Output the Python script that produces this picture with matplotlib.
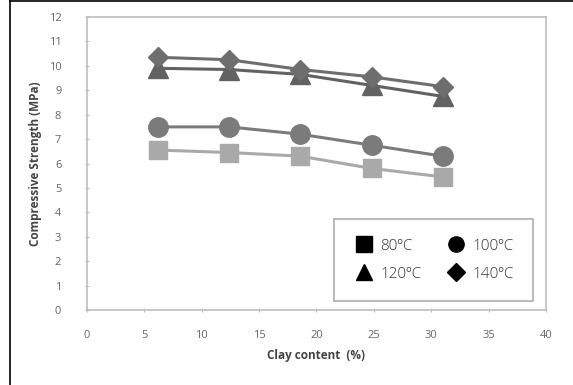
import matplotlib
matplotlib.use("Agg")
import matplotlib.pyplot as plt
from matplotlib.lines import Line2D

# data
clay = [6.2, 12.4, 18.6, 24.8, 31.0]
s80 = [6.55, 6.45, 6.3, 5.8, 5.45]
s100 = [7.5, 7.5, 7.2, 6.75, 6.3]
s120 = [9.9, 9.85, 9.65, 9.2, 8.75]
s140 = [10.35, 10.25, 9.85, 9.55, 9.15]
labels = ["80ºC", "100ºC", "120ºC", "140ºC"]

plt.rcParams['font.family'] = ['Open Sans', 'DejaVu Sans']

fig = plt.figure(figsize=(5.73, 3.85), dpi=100)
ax = fig.add_axes([0.1518, 0.1948, 0.801, 0.761])

ax.plot(clay, s80, color='#a9a9a9', lw=2.2, marker='s', ms=13, zorder=3)
ax.plot(clay, s100, color='#7b7b7b', lw=2.2, marker='o', ms=14, zorder=3)
ax.plot(clay, s120, color='#626262', lw=2.2, marker='^', ms=14, zorder=4)
ax.plot(clay, s140, color='#6e6e6e', lw=2.2, marker='D', ms=10.5, zorder=4)

ax.set_xlim(0, 40)
ax.set_ylim(0, 12)
ax.set_xticks(range(0, 41, 5))
ax.set_yticks(range(0, 13))

for sp in ax.spines.values():
    sp.set_color('#bdbdbd')
    sp.set_linewidth(1.2)

ax.tick_params(axis='both', colors='#bdbdbd', labelcolor='#666666', labelsize=8,
               length=3, direction='inout')
ax.tick_params(axis='y', pad=17)
ax.tick_params(axis='x', pad=13)

ax.set_xlabel("Clay content  (%)", fontsize=8.5, fontweight='bold', color='#444444', labelpad=6)
ax.set_ylabel("Compressive Strength (MPa)", fontsize=8.5, fontweight='bold', color='#444444', labelpad=5)

# legend with black markers, no lines; order fills columns so 80/100 sit on the first row
handles = {
    "80ºC": Line2D([], [], ls='none', marker='s', color='black', ms=11),
    "100ºC": Line2D([], [], ls='none', marker='o', color='black', ms=11),
    "120ºC": Line2D([], [], ls='none', marker='^', color='black', ms=11),
    "140ºC": Line2D([], [], ls='none', marker='D', color='black', ms=9),
}
order = [labels[0], labels[2], labels[1], labels[3]]
leg = ax.legend([handles[k] for k in order], order, ncol=2, loc='lower right',
                bbox_to_anchor=(0.972, 0.032),
                fontsize=11, frameon=True, fancybox=False, borderpad=1.25, borderaxespad=0,
                handletextpad=0.45, columnspacing=1.6, labelspacing=0.85, handlelength=1.3,
                labelcolor='#333333')
leg.get_frame().set_edgecolor('#999999')
leg.get_frame().set_linewidth(1.2)
for t in leg.get_texts():
    t.set_fontweight('light')

# outer frame lines (top and left) as in the reference
fig.add_artist(Line2D([0.0175, 1.0], [0.997, 0.997], color='black', lw=1.2, transform=fig.transFigure))
fig.add_artist(Line2D([0.0175, 0.0175], [0.0, 0.997], color='black', lw=1.2, transform=fig.transFigure))

fig.savefig("out.png", dpi=100)
